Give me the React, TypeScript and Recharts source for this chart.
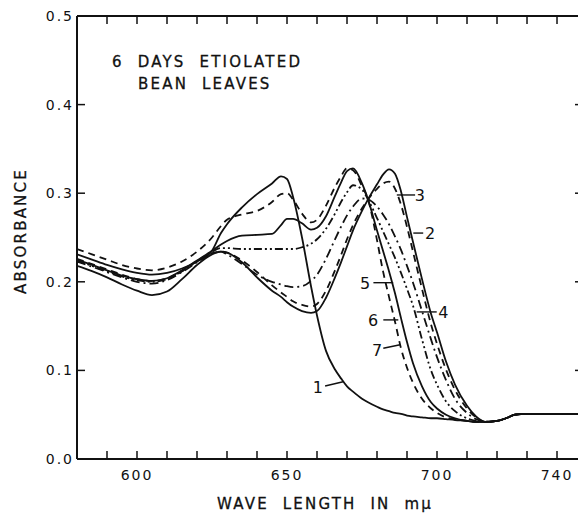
import React from 'react';
import { LineChart, Line, XAxis, YAxis, ReferenceLine, ReferenceDot } from 'recharts';

// wavelength grid (m\u03bc) and absorbance of the seven spectra
const WAVELENGTHS = [
  580, 585, 590, 595, 600, 605, 610, 615, 620, 625,
  628, 630, 635, 640, 645, 648, 650, 652, 655, 658,
  660, 663, 666, 668, 670, 672, 675, 677, 680, 682,
  684, 686, 688, 690, 692, 695, 698, 700, 703, 706,
  710, 713, 716, 720, 723, 726, 730, 735, 740, 749,
];

const CURVE_1 = [
  0.231, 0.225, 0.219, 0.214, 0.21, 0.208, 0.21, 0.215, 0.223, 0.235,
  0.255, 0.265, 0.284, 0.299, 0.311, 0.319, 0.316, 0.296, 0.25, 0.195,
  0.162, 0.122, 0.101, 0.091, 0.082, 0.076, 0.068, 0.064, 0.059, 0.056,
  0.054, 0.052, 0.051, 0.049, 0.048, 0.047, 0.046, 0.046, 0.045, 0.044,
  0.043, 0.042, 0.042, 0.043, 0.046, 0.05, 0.051, 0.051, 0.051, 0.051,
];

const CURVE_2 = [
  0.226, 0.22, 0.214, 0.208, 0.203, 0.201, 0.204, 0.212, 0.223, 0.232,
  0.234, 0.233, 0.224, 0.211, 0.196, 0.188, 0.183, 0.178, 0.174, 0.172,
  0.175, 0.19, 0.213, 0.23, 0.248, 0.264, 0.283, 0.293, 0.305, 0.311,
  0.313, 0.305, 0.287, 0.262, 0.234, 0.192, 0.152, 0.13, 0.101, 0.078,
  0.057, 0.047, 0.042, 0.043, 0.046, 0.05, 0.051, 0.051, 0.051, 0.051,
];

const CURVE_3 = [
  0.218, 0.212, 0.205, 0.197, 0.19, 0.185, 0.189, 0.203, 0.219, 0.231,
  0.234, 0.233, 0.222, 0.205, 0.19, 0.183, 0.177, 0.172, 0.167, 0.165,
  0.167, 0.182, 0.205, 0.222, 0.24, 0.258, 0.28, 0.293, 0.31, 0.321,
  0.327, 0.322, 0.302, 0.273, 0.245, 0.203, 0.164, 0.143, 0.11, 0.084,
  0.06, 0.048, 0.042, 0.043, 0.046, 0.05, 0.051, 0.051, 0.051, 0.051,
];

const CURVE_4 = [
  0.223, 0.217, 0.211, 0.205, 0.2, 0.198, 0.202, 0.211, 0.222, 0.232,
  0.234, 0.231, 0.22, 0.208, 0.2, 0.197, 0.195, 0.194, 0.195, 0.201,
  0.208, 0.226, 0.248, 0.262, 0.275, 0.285, 0.294, 0.293, 0.285, 0.276,
  0.265, 0.251, 0.236, 0.218, 0.199, 0.167, 0.135, 0.115, 0.089, 0.068,
  0.052, 0.045, 0.042, 0.043, 0.046, 0.05, 0.051, 0.051, 0.051, 0.051,
];

const CURVE_5 = [
  0.224, 0.218, 0.212, 0.206, 0.202, 0.2, 0.203, 0.212, 0.223, 0.234,
  0.238, 0.238, 0.237, 0.237, 0.237, 0.237, 0.237, 0.237, 0.239, 0.243,
  0.248, 0.26, 0.277, 0.29, 0.301, 0.309, 0.304, 0.293, 0.272, 0.257,
  0.242, 0.227, 0.21, 0.192, 0.173, 0.135, 0.1, 0.084, 0.065, 0.054,
  0.046, 0.043, 0.042, 0.043, 0.046, 0.05, 0.051, 0.051, 0.051, 0.051,
];

const CURVE_6 = [
  0.225, 0.219, 0.213, 0.207, 0.203, 0.201, 0.204, 0.213, 0.224, 0.235,
  0.242, 0.246, 0.252, 0.253, 0.254, 0.264, 0.271, 0.271, 0.266, 0.259,
  0.261, 0.274, 0.297, 0.312, 0.325, 0.328, 0.311, 0.293, 0.258, 0.235,
  0.212, 0.187, 0.159, 0.132, 0.108, 0.082, 0.064, 0.057, 0.05, 0.046,
  0.043, 0.042, 0.042, 0.043, 0.046, 0.05, 0.051, 0.051, 0.051, 0.051,
];

const CURVE_7 = [
  0.237, 0.231, 0.225, 0.219, 0.215, 0.213, 0.216, 0.223, 0.234, 0.25,
  0.263, 0.27, 0.276, 0.28, 0.29, 0.299, 0.3, 0.293, 0.277, 0.267,
  0.27, 0.286, 0.307, 0.319, 0.328, 0.326, 0.308, 0.293, 0.247, 0.212,
  0.183, 0.155, 0.125, 0.103, 0.086, 0.068, 0.057, 0.052, 0.047, 0.045,
  0.043, 0.042, 0.042, 0.043, 0.046, 0.05, 0.051, 0.051, 0.051, 0.051,
];

const X_TICKS = [590, 600, 610, 620, 630, 640, 650, 660, 670, 680, 690, 700, 710, 720, 730, 740];
const X_LABELS = [600, 650, 700, 740];
const Y_TICKS = [0, 0.1, 0.2, 0.3, 0.4, 0.5];
const Y_INNER = [0.1, 0.2, 0.3, 0.4];

// curve number, where its text sits, and the leader line to the curve
const CURVE_TAGS = [
  { tag: '1', at: [660.3, 0.081], from: [662.7, 0.0824], to: [668.7, 0.0872] },
  { tag: '2', at: [697.7, 0.255], from: [695.4, 0.255], to: [692.1, 0.255] },
  { tag: '3', at: [694.3, 0.298], from: [692.7, 0.298], to: [686.6, 0.298] },
  { tag: '4', at: [702.1, 0.166], from: [699.9, 0.166], to: [693.2, 0.166] },
  { tag: '5', at: [676.0, 0.198], from: [678.8, 0.199], to: [685.4, 0.199] },
  { tag: '6', at: [678.7, 0.157], from: [682.1, 0.157], to: [687.1, 0.157] },
  { tag: '7', at: [680.0, 0.123], from: [682.1, 0.125], to: [687.7, 0.129] },
];

const rows = WAVELENGTHS.map((w, i) => ({
  w,
  c1: CURVE_1[i],
  c2: CURVE_2[i],
  c3: CURVE_3[i],
  c4: CURVE_4[i],
  c5: CURVE_5[i],
  c6: CURVE_6[i],
  c7: CURVE_7[i],
}));

const SERIES = [
  { key: 'c1', dash: undefined },
  { key: 'c2', dash: '7 5' },
  { key: 'c3', dash: undefined },
  { key: 'c4', dash: '9 4 2 4' },
  { key: 'c5', dash: '8 3 2 3 2 3' },
  { key: 'c6', dash: undefined },
  { key: 'c7', dash: '7 5' },
];

const X_MIN = 580;
const X_MAX = 749.33;
const Y_MAX = 0.5;

// chart frame (same numbers as the LineChart margins / axis sizes below)
const CHART_W = 590;
const CHART_H = 514;
const LEFT_W = 77;
const RIGHT_W = 5;
const TOP_H = 16;
const BOTTOM_H = 55;
const PLOT_L = LEFT_W;
const PLOT_R = CHART_W - RIGHT_W;
const PLOT_T = TOP_H;
const PLOT_B = CHART_H - BOTTOM_H;

const FONT = '"DejaVu Sans", sans-serif';
const INK = '#111';

const sx = (x: number) => PLOT_L + ((x - X_MIN) / (X_MAX - X_MIN)) * (PLOT_R - PLOT_L);
const sy = (y: number) => PLOT_B - (y / Y_MAX) * (PLOT_B - PLOT_T);

const tickStyle: any = {
  fontSize: 14,
  fill: INK,
  fontFamily: FONT,
  letterSpacing: 2,
};

// inward tick marks, laid over the chart frame
const InwardTicks = () => (
  <svg
    width={CHART_W}
    height={CHART_H}
    style={{ position: 'absolute', left: 0, top: 0, pointerEvents: 'none' }}
  >
    {X_TICKS.map((x) => (
      <g key={`x${x}`}>
        <line x1={sx(x)} y1={PLOT_B} x2={sx(x)} y2={PLOT_B - 8} stroke={INK} strokeWidth={1.5} />
        <line x1={sx(x)} y1={PLOT_T} x2={sx(x)} y2={PLOT_T + 8} stroke={INK} strokeWidth={1.5} />
      </g>
    ))}
    {Y_INNER.map((y) => (
      <g key={`y${y}`}>
        <line x1={PLOT_L} y1={sy(y)} x2={PLOT_L + 8} y2={sy(y)} stroke={INK} strokeWidth={1.5} />
        <line x1={PLOT_R} y1={sy(y)} x2={PLOT_R - 10} y2={sy(y)} stroke={INK} strokeWidth={1.5} />
      </g>
    ))}
  </svg>
);

const Note = ({ x, y, children, rotate = 0, left = false }: any) => (
  <div
    style={{
      position: 'absolute',
      left: x,
      top: y,
      transform: `translate(${left ? '0' : '-50%'}, -50%) rotate(${rotate}deg)`,
      fontFamily: FONT,
      fontSize: 15,
      letterSpacing: 2.2,
      color: INK,
      WebkitTextStroke: '0.3px #111',
      whiteSpace: 'pre',
      lineHeight: 1,
    }}
  >
    {children}
  </div>
);

export default function App() {
  return (
    <div
      style={{
        position: 'absolute',
        left: 0,
        top: 0,
        width: 578,
        height: 514,
        overflow: 'hidden',
        background: '#fff',
      }}
    >
      <LineChart width={CHART_W} height={CHART_H} data={rows} margin={{ top: 0, right: 0, bottom: 0, left: 0 }}>
        <XAxis
          dataKey="w"
          type="number"
          domain={[X_MIN, X_MAX]}
          ticks={X_TICKS}
          allowDataOverflow
          height={BOTTOM_H}
          tickSize={0}
          tickMargin={11}
          interval={0}
          tickFormatter={(v: number) => (X_LABELS.includes(v) ? String(v) : '')}
          tick={tickStyle}
          tickLine={false}
          axisLine={{ stroke: INK, strokeWidth: 2 }}
        />
        <XAxis
          xAxisId="top"
          orientation="top"
          dataKey="w"
          type="number"
          domain={[X_MIN, X_MAX]}
          allowDataOverflow
          height={TOP_H}
          tick={false}
          tickLine={false}
          axisLine={{ stroke: INK, strokeWidth: 1.8 }}
        />
        <YAxis
          type="number"
          domain={[0, Y_MAX]}
          ticks={Y_TICKS}
          width={LEFT_W}
          tickSize={0}
          tickMargin={3}
          interval={0}
          tickFormatter={(v: number) => v.toFixed(1)}
          tick={tickStyle}
          tickLine={false}
          axisLine={{ stroke: INK, strokeWidth: 2 }}
        />
        <YAxis
          yAxisId="right"
          orientation="right"
          type="number"
          domain={[0, Y_MAX]}
          width={RIGHT_W}
          tick={false}
          tickLine={false}
          axisLine={{ stroke: INK, strokeWidth: 2 }}
        />
        {SERIES.map((s) => (
          <Line
            key={s.key}
            dataKey={s.key}
            type="monotone"
            stroke={INK}
            strokeWidth={1.8}
            strokeDasharray={s.dash}
            dot={false}
            activeDot={false}
            isAnimationActive={false}
          />
        ))}
        {CURVE_TAGS.map((t) => (
          <ReferenceLine
            key={`l${t.tag}`}
            segment={[
              { x: t.from[0], y: t.from[1] },
              { x: t.to[0], y: t.to[1] },
            ]}
            stroke={INK}
            strokeWidth={1.4}
            ifOverflow="visible"
          />
        ))}
        {CURVE_TAGS.map((t) => (
          <ReferenceDot
            key={`t${t.tag}`}
            x={t.at[0]}
            y={t.at[1]}
            r={0}
            fill="none"
            stroke="none"
            ifOverflow="visible"
            label={{ value: t.tag, position: 'center', fontSize: 16, fill: INK, fontFamily: FONT }}
          />
        ))}
      </LineChart>
      <InwardTicks />
      <Note x={112} y={62} left>
        {'6  DAYS  ETIOLATED'}
      </Note>
      <Note x={138} y={84} left>
        {'BEAN  LEAVES'}
      </Note>
      <Note x={21} y={231} rotate={-90}>
        ABSORBANCE
      </Note>
      <Note x={325} y={504}>
        {'WAVE  LENGTH  IN  m\u03bc'}
      </Note>
    </div>
  );
}
